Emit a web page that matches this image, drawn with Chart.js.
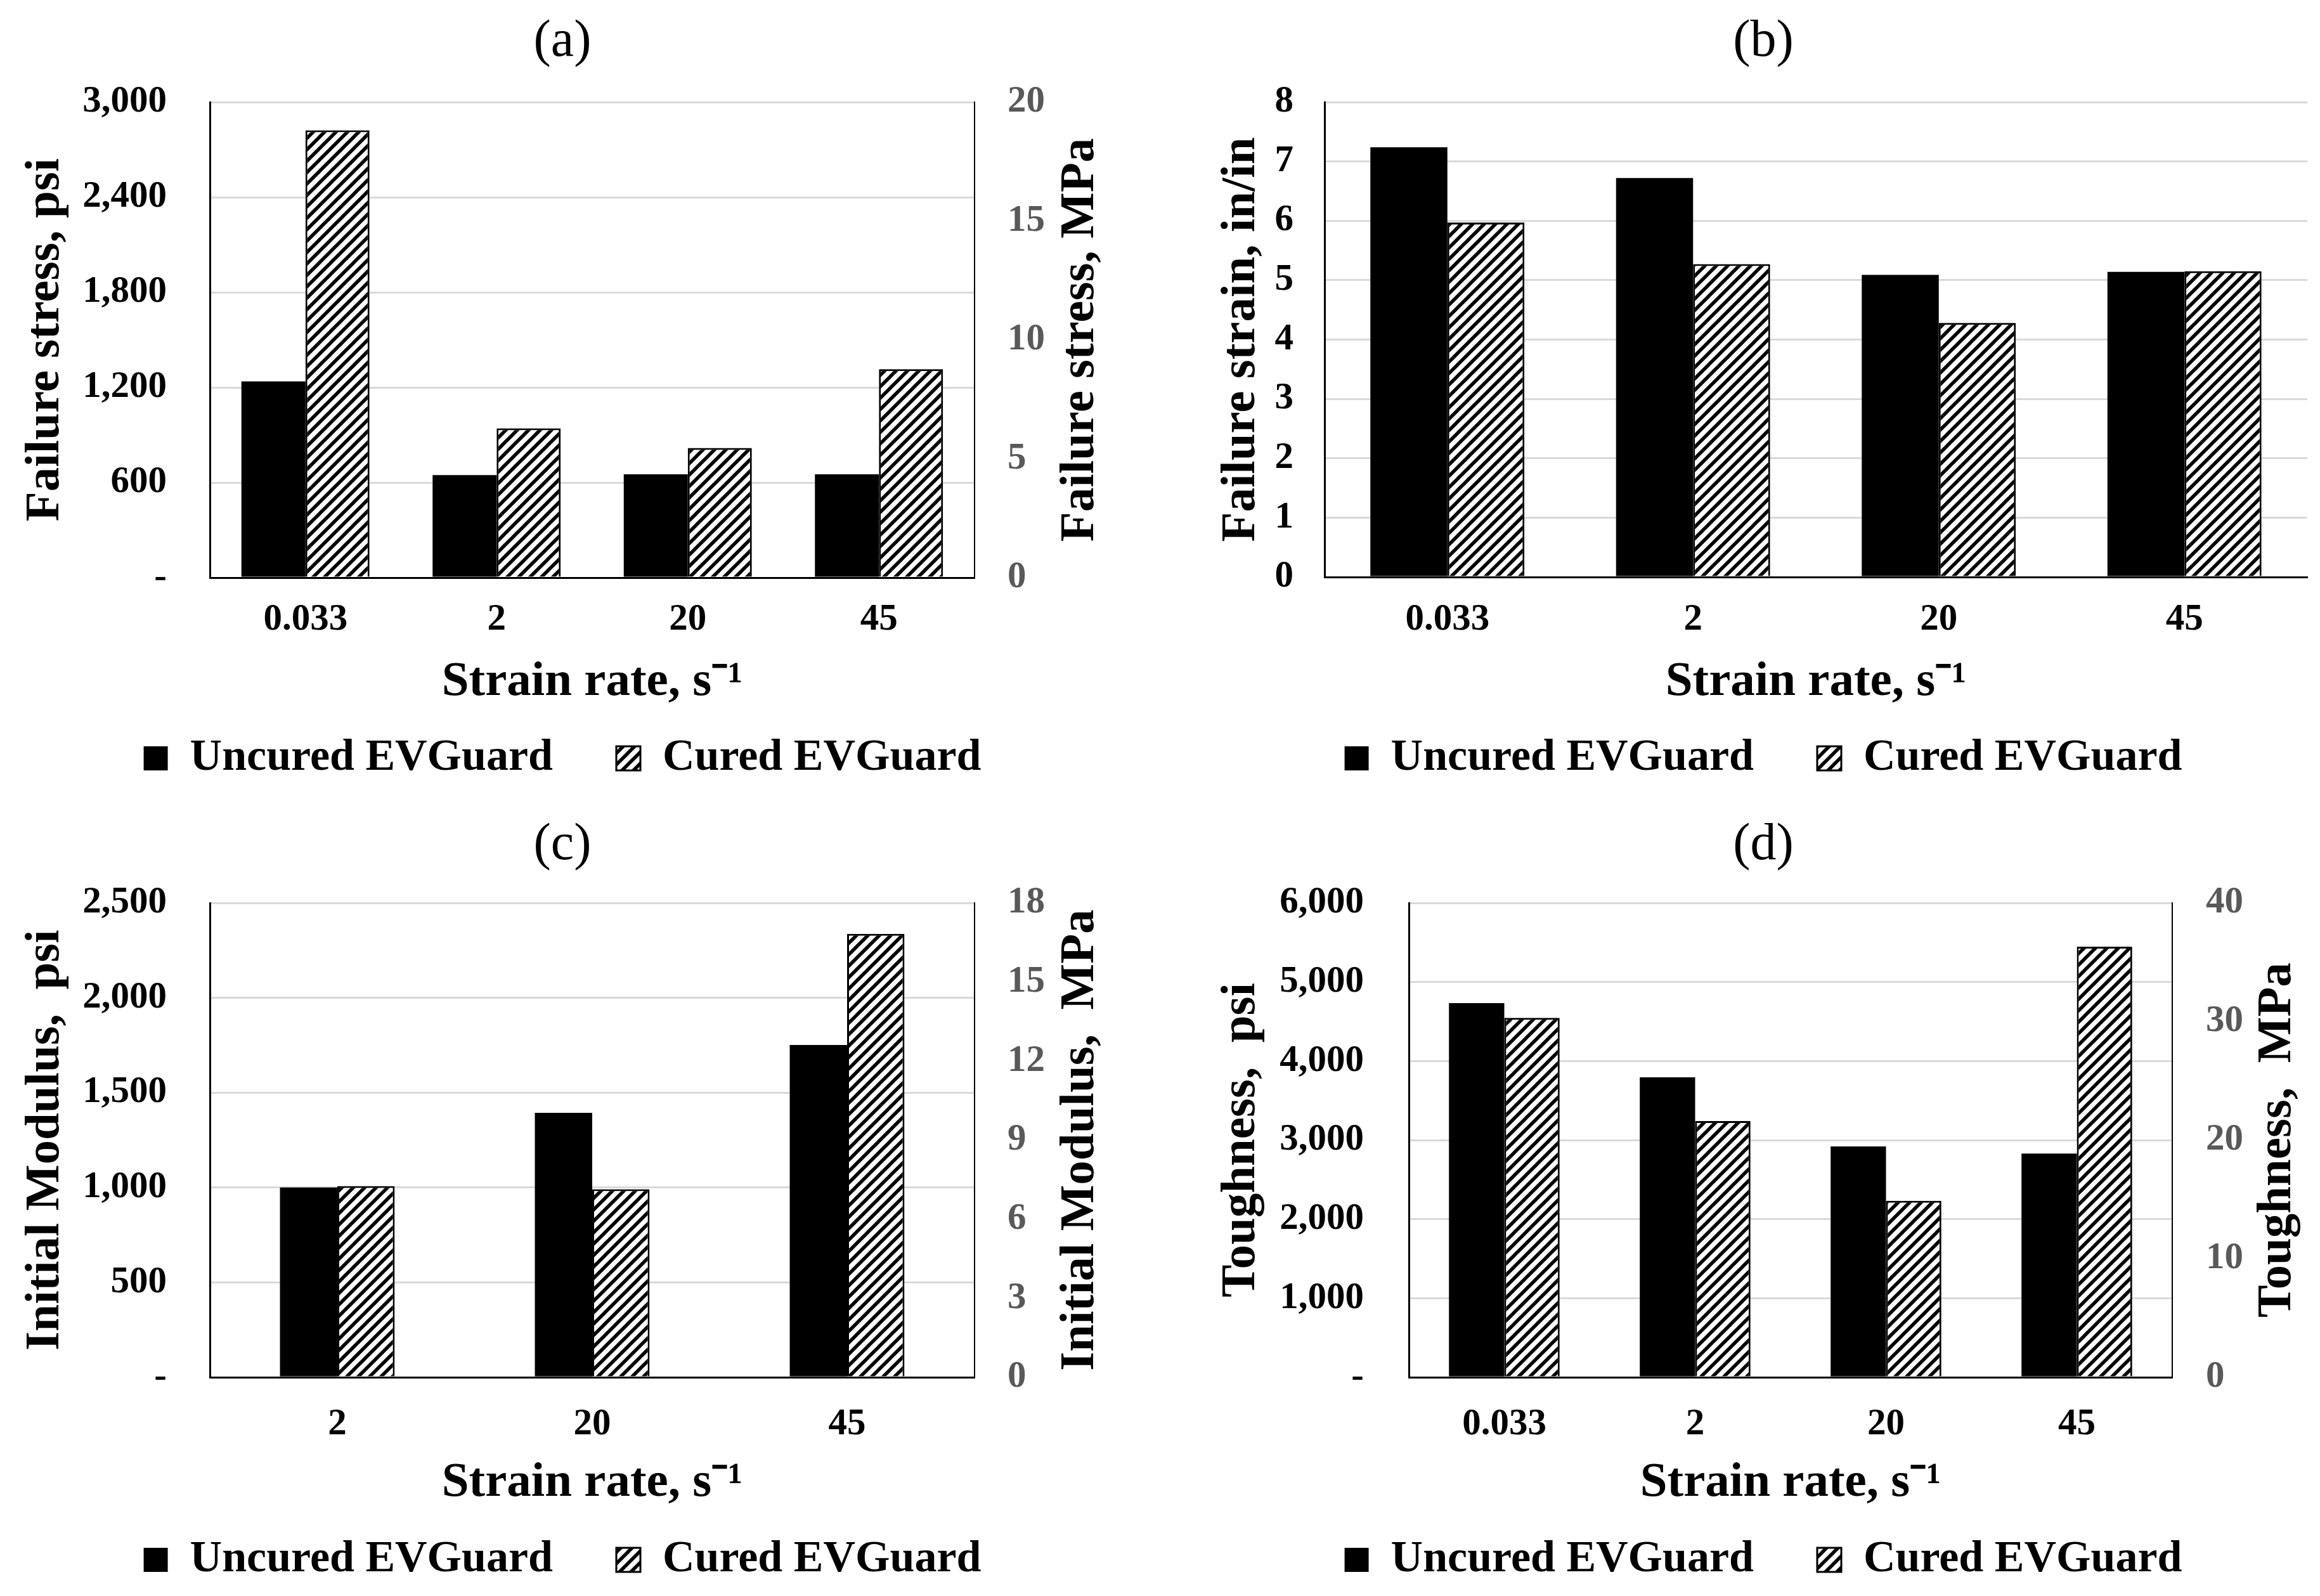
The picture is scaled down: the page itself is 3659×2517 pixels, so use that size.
<!DOCTYPE html>
<html>
<head>
<meta charset="utf-8">
<script src="https://cdn.jsdelivr.net/npm/chart.js@4.4.1/dist/chart.umd.min.js"></script>
<style>
html,body{margin:0;padding:0;background:#fff;}
body{width:3659px;height:2517px;position:relative;overflow:hidden;}
.panel{position:absolute;}
.panel canvas{display:block;}
</style>
</head>
<body>
<div class="panel" style="left:0px;top:0px;width:1830px;height:1260px"><canvas id="ca"></canvas></div>
<div class="panel" style="left:1830px;top:0px;width:1829px;height:1260px"><canvas id="cb"></canvas></div>
<div class="panel" style="left:0px;top:1260px;width:1830px;height:1257px"><canvas id="cc"></canvas></div>
<div class="panel" style="left:1830px;top:1260px;width:1829px;height:1257px"><canvas id="cd"></canvas></div>
<script>
// ---------------- data ----------------
const strainRates4 = ['0.033', '2', '20', '45'];
const strainRates3 = ['2', '20', '45'];
const seriesNames = ['Uncured EVGuard', 'Cured EVGuard'];
const xAxisTitle = 'Strain rate, s\u207B\u00B9';

const stressUncured = [1238, 647, 652, 652];     // psi
const stressCured   = [2822, 942, 818, 1315];    // psi
const strainUncured = [7.24, 6.72, 5.09, 5.14];  // in/in
const strainCured   = [5.97, 5.27, 4.28, 5.15];  // in/in
const modulusUncured = [1000, 1394, 1751];       // psi
const modulusCured   = [1008, 991, 2337];        // psi
const toughUncured = [4733, 3794, 2920, 2830];   // psi
const toughCured   = [4547, 3241, 2232, 5447];   // psi

const stressTicksPsi = {min: 0, max: 3000, step: 600};
const stressTicksMPa = {min: 0, max: 20, step: 5};
const strainTicks = {min: 0, max: 8, step: 1};
const modulusTicksPsi = {min: 0, max: 2500, step: 500};
const modulusTicksMPa = {min: 0, max: 18, step: 3};
const toughTicksPsi = {min: 0, max: 6000, step: 1000};
const toughTicksMPa = {min: 0, max: 40, step: 10};

// ---------------- style ----------------
const FONT = '"Liberation Serif", "Times New Roman", Times, serif';
Chart.defaults.font.family = FONT;
Chart.defaults.color = '#000';
const TICK = 59, AXT = 77, LEG = 70, TTL = 82, LH = 1.2;
const LEG_PAD = 100, LEG_BOX = 38;

function makeHatch() {
  const s = 18;
  const c = document.createElement('canvas');
  c.width = s; c.height = s;
  const g = c.getContext('2d');
  g.fillStyle = '#fff'; g.fillRect(0, 0, s, s);
  g.strokeStyle = '#000'; g.lineWidth = 5.5;
  g.beginPath();
  g.moveTo(-s, s); g.lineTo(s, -s);
  g.moveTo(0, s); g.lineTo(s, 0);
  g.moveTo(0, 2 * s); g.lineTo(2 * s, 0);
  g.stroke();
  return g.createPattern(c, 'repeat');
}

const rightTitlePlugin = {
  id: 'rightTitle',
  afterDraw(chart, args, opts) {
    if (!opts || !opts.text) return;
    const {ctx, chartArea} = chart;
    ctx.save();
    ctx.translate(opts.x, (chartArea.top + chartArea.bottom) / 2);
    ctx.rotate(-Math.PI / 2);
    ctx.font = 'bold ' + AXT + 'px ' + FONT;
    ctx.fillStyle = '#000';
    ctx.textAlign = 'center';
    ctx.textBaseline = 'middle';
    ctx.fillText(opts.text, 0, 0);
    ctx.restore();
  }
};

function psiFmt(v) { return v === 0 ? '-' : v.toLocaleString('en-US'); }

function build(p) {
  const cw = p.box.w, ch = p.box.h;
  const L = v => v - p.box.x, T = v => v - p.box.y;
  const plotL = L(p.plotL), plotR = L(p.plotR), plotT = T(p.plotT), plotB = T(p.plotB);
  const legCX = L(p.legendX);
  let padL, padR;
  if (p.right) {
    const d = 2 * legCX - cw;
    if (d >= 0) { padL = d; padR = 0; } else { padL = 0; padR = -d; }
  } else {
    padR = cw - plotR;
    padL = 2 * legCX - cw + padR;
  }
  const itemH = Math.max(LEG, LEG_BOX);
  const legendH = itemH + LEG_PAD + 10;
  const legendTop = T(p.legendY) - LEG_PAD - itemH / 2;
  const padB = ch - legendTop - legendH;
  const xAxisH = legendTop - plotB;
  const ttlLH = TTL * LH, axLH = AXT * LH, tkLH = TICK * LH;
  const titlePadTop = T(p.titleY) - ttlLH / 2;
  const titlePadBottom = plotT - (T(p.titleY) + ttlLH / 2);
  const xTickPad = T(p.xTickY) - plotB - tkLH / 2;
  const xTitlePadBottom = legendTop - axLH / 2 - T(p.xTitleY);
  const yLW = plotL - padL;
  const yLTitlePad = L(p.leftTitleX) - padL - axLH / 2;
  const yLTickPad = plotL - L(p.leftTickRight);
  const yRW = p.right ? cw - padR - plotR : 0;

  const hatch = makeHatch();
  const scales = {
    x: {
      type: 'category', position: 'bottom', offset: true,
      grid: {display: false, drawTicks: false},
      border: {display: true, color: '#000', width: 3},
      ticks: {font: {size: TICK, weight: 'bold'}, color: '#000', padding: xTickPad, maxRotation: 0, autoSkip: false},
      title: {display: true, text: xAxisTitle, font: {size: AXT, weight: 'bold'}, color: '#000',
              padding: {top: 0, bottom: xTitlePadBottom}},
      afterFit: s => { s.height = xAxisH; }
    },
    y: {
      type: 'linear', position: 'left', min: p.leftTicks.min, max: p.leftTicks.max,
      grid: {color: c => (c.tick && c.tick.value === 0) ? 'rgba(0,0,0,0)' : '#d9d9d9', lineWidth: 3, drawTicks: false},
      border: {display: true, color: '#000', width: 3},
      ticks: {stepSize: p.leftTicks.step, font: {size: TICK, weight: 'bold'}, color: '#000',
              padding: yLTickPad, callback: p.leftFmt},
      title: {display: true, text: p.leftTitle, font: {size: AXT, weight: 'bold'}, color: '#000',
              padding: {top: yLTitlePad, bottom: 0}},
      afterFit: s => { s.width = yLW; }
    }
  };
  if (p.right) {
    scales.y2 = {
      type: 'linear', position: 'right', min: p.rightTicks.min, max: p.rightTicks.max,
      grid: {display: false, drawTicks: false},
      border: {display: true, color: '#000', width: 2},
      ticks: {stepSize: p.rightTicks.step, font: {size: TICK, weight: 'bold'}, color: '#595959',
              padding: L(p.rightTickLeft) - plotR},
      afterFit: s => { s.width = yRW; }
    };
  }

  new Chart(document.getElementById(p.id), {
    type: 'bar',
    data: {
      labels: p.labels,
      datasets: [
        {label: seriesNames[0], data: p.uncured, backgroundColor: '#000', borderColor: '#000', borderWidth: 0,
         categoryPercentage: p.catPct, barPercentage: 1.0, yAxisID: 'y'},
        {label: seriesNames[1], data: p.cured, backgroundColor: hatch, borderColor: '#000', borderWidth: 3,
         categoryPercentage: p.catPct, barPercentage: 1.0, yAxisID: 'y'}
      ]
    },
    options: {
      responsive: true, maintainAspectRatio: false, animation: false, events: [],
      layout: {padding: {left: padL, right: padR, top: 0, bottom: padB}},
      scales,
      plugins: {
        title: {display: true, text: p.title, font: {size: TTL, weight: 'normal'}, color: '#000',
                padding: {top: titlePadTop, bottom: titlePadBottom}},
        legend: {position: 'bottom',
                 labels: {font: {size: LEG, weight: 'bold'}, color: '#000', boxWidth: LEG_BOX, boxHeight: LEG_BOX, padding: LEG_PAD}},
        tooltip: {enabled: false},
        rightTitle: {text: p.right ? p.rightTitle : '', x: p.right ? L(p.rightTitleX) : 0}
      }
    },
    plugins: [rightTitlePlugin]
  });
}

build({id: 'ca', box: {x: 0, y: 0, w: 1830, h: 1260}, title: '(a)',
  labels: strainRates4, uncured: stressUncured, cured: stressCured, catPct: 0.67,
  leftTicks: stressTicksPsi, leftFmt: psiFmt, leftTitle: 'Failure stress, psi',
  right: true, rightTicks: stressTicksMPa, rightTitle: 'Failure stress, MPa',
  plotL: 331, plotR: 1537, plotT: 161, plotB: 911, titleY: 66, xTickY: 978, xTitleY: 1076,
  legendY: 1196, legendX: 887, leftTitleX: 72, rightTitleX: 1704, leftTickRight: 263, rightTickLeft: 1589});

build({id: 'cb', box: {x: 1830, y: 0, w: 1829, h: 1260}, title: '(b)',
  labels: strainRates4, uncured: strainUncured, cured: strainCured, catPct: 0.627,
  leftTicks: strainTicks, leftFmt: v => String(v), leftTitle: 'Failure strain, in/in',
  right: false,
  plotL: 2089, plotR: 3639, plotT: 161, plotB: 910, titleY: 66, xTickY: 978, xTitleY: 1076,
  legendY: 1196, legendX: 2781, leftTitleX: 1958, leftTickRight: 2040});

build({id: 'cc', box: {x: 0, y: 1260, w: 1830, h: 1257}, title: '(c)',
  labels: strainRates3, uncured: modulusUncured, cured: modulusCured, catPct: 0.45,
  leftTicks: modulusTicksPsi, leftFmt: psiFmt, leftTitle: 'Initial Modulus,  psi',
  right: true, rightTicks: modulusTicksMPa, rightTitle: 'Initial Modulus,  MPa',
  plotL: 331, plotR: 1537, plotT: 1424, plotB: 2172, titleY: 1333, xTickY: 2247, xTitleY: 2339,
  legendY: 2460, legendX: 887, leftTitleX: 72, rightTitleX: 1704, leftTickRight: 263, rightTickLeft: 1589});

build({id: 'cd', box: {x: 1830, y: 1260, w: 1829, h: 1257}, title: '(d)',
  labels: strainRates4, uncured: toughUncured, cured: toughCured, catPct: 0.58,
  leftTicks: toughTicksPsi, leftFmt: psiFmt, leftTitle: 'Toughness,  psi',
  right: true, rightTicks: toughTicksMPa, rightTitle: 'Toughness,  MPa',
  plotL: 2222, plotR: 3426, plotT: 1424, plotB: 2172, titleY: 1333, xTickY: 2247, xTitleY: 2339,
  legendY: 2460, legendX: 2781, leftTitleX: 1958, rightTitleX: 3592, leftTickRight: 2151, rightTickLeft: 3479});
</script>
</body>
</html>
